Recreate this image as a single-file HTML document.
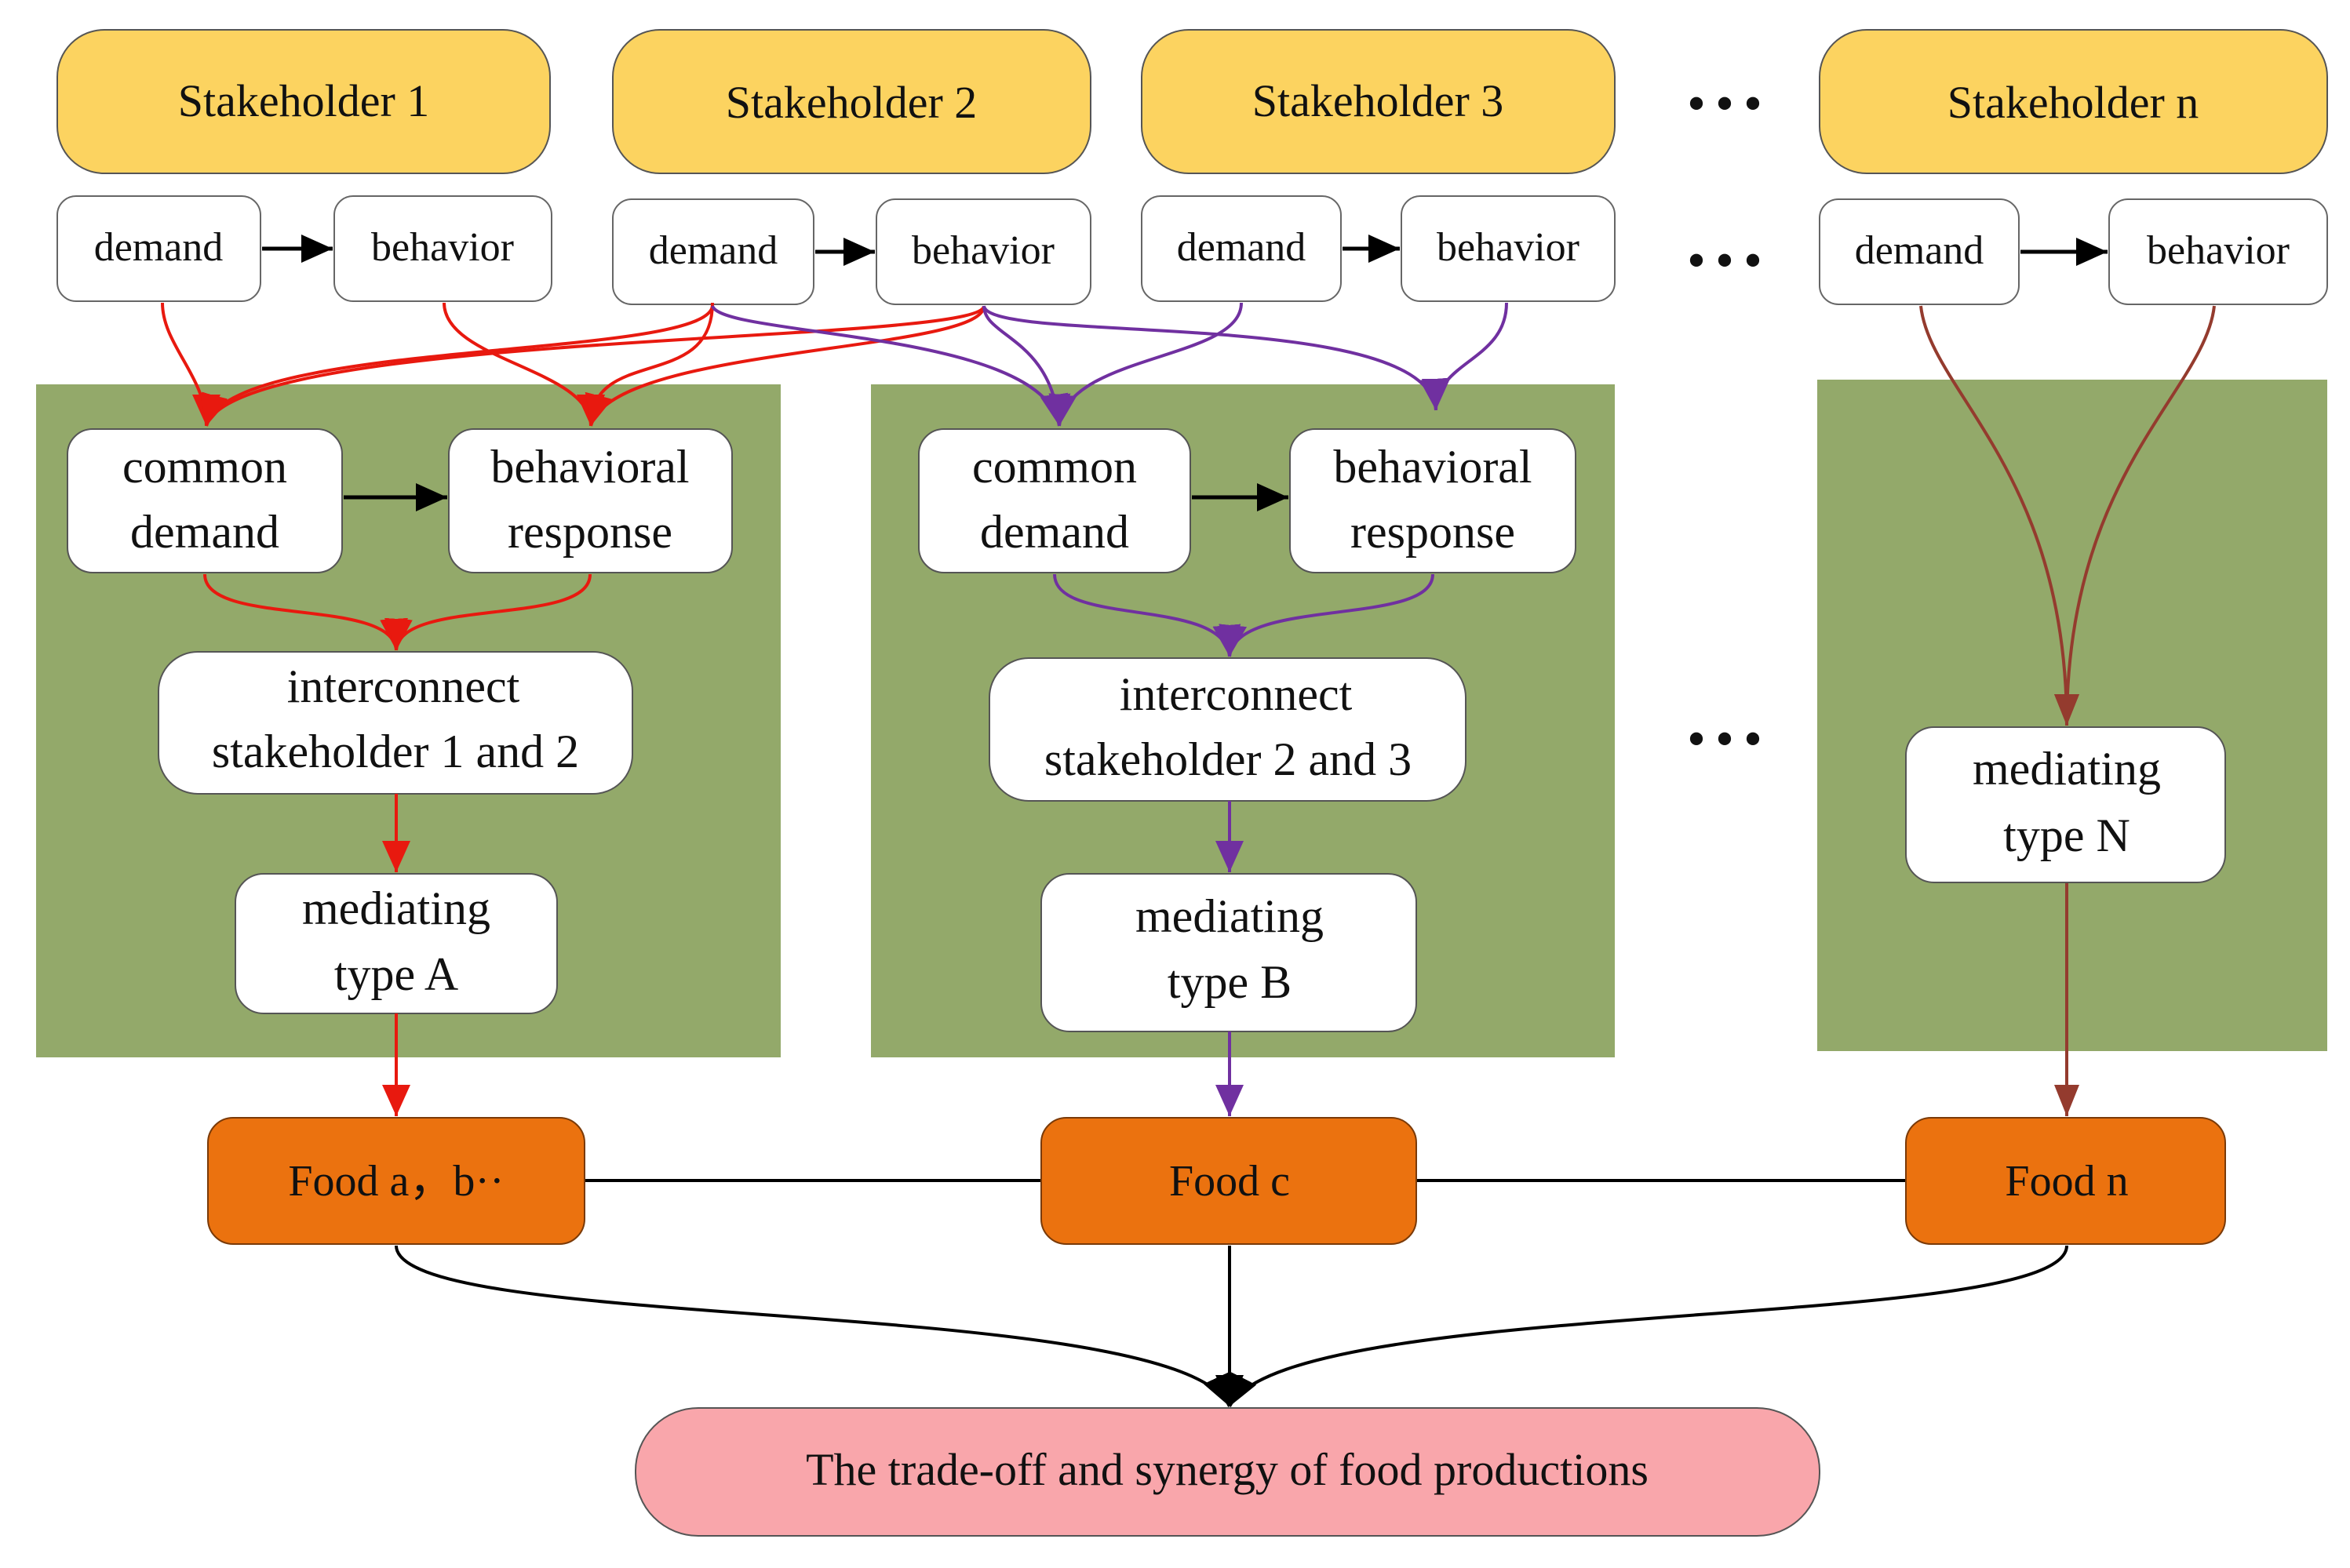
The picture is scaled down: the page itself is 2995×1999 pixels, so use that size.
<!DOCTYPE html>
<html><head><meta charset="utf-8"><style>
html,body{margin:0;padding:0;background:#fff;}
svg{display:block;}
text{font-family:"Liberation Serif",serif;fill:#111;text-anchor:middle;}
</style></head><body>
<svg width="2995" height="1999" viewBox="0 0 2995 1999" xmlns="http://www.w3.org/2000/svg">
<defs>
<marker id="ak" markerUnits="userSpaceOnUse" markerWidth="44" markerHeight="44" refX="40" refY="20" orient="auto"><path d="M0,2 L40,20 L0,38 Z" fill="#000"/></marker>
<marker id="ar" markerUnits="userSpaceOnUse" markerWidth="44" markerHeight="44" refX="40" refY="20" orient="auto"><path d="M0,2 L40,20 L0,38 Z" fill="#e8190f"/></marker>
<marker id="ap" markerUnits="userSpaceOnUse" markerWidth="44" markerHeight="44" refX="40" refY="20" orient="auto"><path d="M0,2 L40,20 L0,38 Z" fill="#7030a0"/></marker>
<marker id="ab" markerUnits="userSpaceOnUse" markerWidth="44" markerHeight="44" refX="40" refY="20" orient="auto"><path d="M0,4 L40,20 L0,36 Z" fill="#943b2e"/></marker>
</defs>

<rect x="46" y="490" width="949" height="858" fill="#93a96a"/>
<rect x="1110" y="490" width="948" height="858" fill="#93a96a"/>
<rect x="2316" y="484" width="650" height="856" fill="#93a96a"/>

<g fill="#fcd360" stroke="#555" stroke-width="2">
<rect x="73" y="38" width="628" height="183" rx="60"/>
<rect x="781" y="38" width="609" height="183" rx="60"/>
<rect x="1455" y="38" width="603" height="183" rx="60"/>
<rect x="2319" y="38" width="647" height="183" rx="60"/>
</g>
<g font-size="58">
<text x="387" y="148">Stakeholder 1</text>
<text x="1085" y="150">Stakeholder 2</text>
<text x="1756" y="148">Stakeholder 3</text>
<text x="2642" y="150">Stakeholder n</text>
</g>
<g font-size="60" font-weight="bold"><text x="2198" y="152">• • •</text><text x="2198" y="352">• • •</text><text x="2198" y="962">• • •</text></g>

<g fill="#fff" stroke="#666" stroke-width="2">
<rect x="73" y="250" width="259" height="134" rx="24"/>
<rect x="426" y="250" width="277" height="134" rx="24"/>
<rect x="781" y="254" width="256" height="134" rx="24"/>
<rect x="1117" y="254" width="273" height="134" rx="24"/>
<rect x="1455" y="250" width="254" height="134" rx="24"/>
<rect x="1786" y="250" width="272" height="134" rx="24"/>
<rect x="2319" y="254" width="254" height="134" rx="24"/>
<rect x="2688" y="254" width="278" height="134" rx="24"/>
</g>
<g font-size="52">
<text x="202" y="332">demand</text><text x="564" y="332">behavior</text>
<text x="909" y="336">demand</text><text x="1253" y="336">behavior</text>
<text x="1582" y="332">demand</text><text x="1922" y="332">behavior</text>
<text x="2446" y="336">demand</text><text x="2827" y="336">behavior</text>
</g>
<g stroke="#000" stroke-width="5" fill="none" marker-end="url(#ak)">
<line x1="334" y1="317" x2="424" y2="317"/>
<line x1="1039" y1="321" x2="1115" y2="321"/>
<line x1="1711" y1="317" x2="1784" y2="317"/>
<line x1="2575" y1="321" x2="2686" y2="321"/>
</g>

<g stroke="#e8190f" stroke-width="4" fill="none" marker-end="url(#ar)">
<path d="M207,386 C207,440 263,480 263,543"/>
<path d="M566,386 C566,460 753,470 753,543"/>
<path d="M908,386 C908,500 753,440 753,543"/>
<path d="M1254,390 C1254,440 300,420 263,543"/>
<path d="M1254,390 C1254,450 780,440 753,543"/>
<path d="M908,390 C900,460 290,430 263,543"/>
</g>
<g stroke="#7030a0" stroke-width="4" fill="none" marker-end="url(#ap)">
<path d="M908,390 C920,430 1330,420 1350,543"/>
<path d="M1254,390 C1254,430 1340,430 1350,543"/>
<path d="M1254,390 C1260,440 1820,390 1830,523"/>
<path d="M1582,386 C1582,460 1360,450 1350,543"/>
<path d="M1920,386 C1920,460 1830,460 1830,523"/>
</g>
<g stroke="#943b2e" stroke-width="4" fill="none" marker-end="url(#ab)">
<path d="M2448,390 C2460,500 2634,600 2634,925"/>
<path d="M2822,390 C2810,500 2634,600 2634,925"/>
<line x1="2634" y1="1125" x2="2634" y2="1423"/>
</g>

<g fill="#fff" stroke="#555" stroke-width="2">
<rect x="86" y="547" width="350" height="183" rx="32"/>
<rect x="572" y="547" width="361" height="183" rx="32"/>
<rect x="202" y="831" width="604" height="181" rx="50"/>
<rect x="300" y="1114" width="410" height="178" rx="36"/>
<rect x="1171" y="547" width="346" height="183" rx="32"/>
<rect x="1644" y="547" width="364" height="183" rx="32"/>
<rect x="1261" y="839" width="607" height="182" rx="50"/>
<rect x="1327" y="1114" width="478" height="201" rx="36"/>
<rect x="2429" y="927" width="407" height="198" rx="36"/>
</g>
<g font-size="60">
<text x="261" y="615">common</text><text x="261" y="698">demand</text>
<text x="752" y="615">behavioral</text><text x="752" y="698">response</text>
<text x="514" y="895">interconnect</text><text x="504" y="978">stakeholder 1 and 2</text>
<text x="505" y="1178">mediating</text><text x="505" y="1262">type A</text>
<text x="1344" y="615">common</text><text x="1344" y="698">demand</text>
<text x="1826" y="615">behavioral</text><text x="1826" y="698">response</text>
<text x="1575" y="905">interconnect</text><text x="1565" y="988">stakeholder 2 and 3</text>
<text x="1567" y="1188">mediating</text><text x="1567" y="1272">type B</text>
<text x="2634" y="1000">mediating</text><text x="2634" y="1085">type N</text>
</g>
<g stroke="#000" stroke-width="5" fill="none" marker-end="url(#ak)">
<line x1="438" y1="634" x2="570" y2="634"/>
<line x1="1519" y1="634" x2="1642" y2="634"/>
</g>
<g stroke="#e8190f" stroke-width="4" fill="none" marker-end="url(#ar)">
<path d="M261,732 C261,800 500,760 505,829"/>
<path d="M752,732 C752,800 510,760 505,829"/>
<line x1="505" y1="1012" x2="505" y2="1112"/>
<line x1="505" y1="1292" x2="505" y2="1423"/>
</g>
<g stroke="#7030a0" stroke-width="4" fill="none" marker-end="url(#ap)">
<path d="M1344,732 C1344,800 1560,760 1567,837"/>
<path d="M1826,732 C1826,800 1575,760 1567,837"/>
<line x1="1567" y1="1021" x2="1567" y2="1112"/>
<line x1="1567" y1="1315" x2="1567" y2="1423"/>
</g>

<line x1="745" y1="1505" x2="2429" y2="1505" stroke="#000" stroke-width="4"/>
<g fill="#eb720f" stroke="#7a3a08" stroke-width="2">
<rect x="265" y="1425" width="480" height="161" rx="32"/>
<rect x="1327" y="1425" width="478" height="161" rx="32"/>
<rect x="2429" y="1425" width="407" height="161" rx="32"/>
</g>
<g font-size="56">
<text x="505" y="1524">Food a，b··</text>
<text x="1567" y="1524">Food c</text>
<text x="2634" y="1524">Food n</text>
</g>
<g stroke="#000" stroke-width="4" fill="none" marker-end="url(#ak)">
<path d="M505,1588 C505,1700 1500,1650 1567,1793"/>
<path d="M2634,1588 C2634,1700 1640,1650 1567,1793"/>
<line x1="1567" y1="1588" x2="1567" y2="1793"/>
</g>
<rect x="810" y="1795" width="1509" height="163" rx="80" fill="#f9a6ab" stroke="#555" stroke-width="2"/>
<text x="1564" y="1893" font-size="58">The trade-off and synergy of food productions</text>
</svg>
</body></html>
